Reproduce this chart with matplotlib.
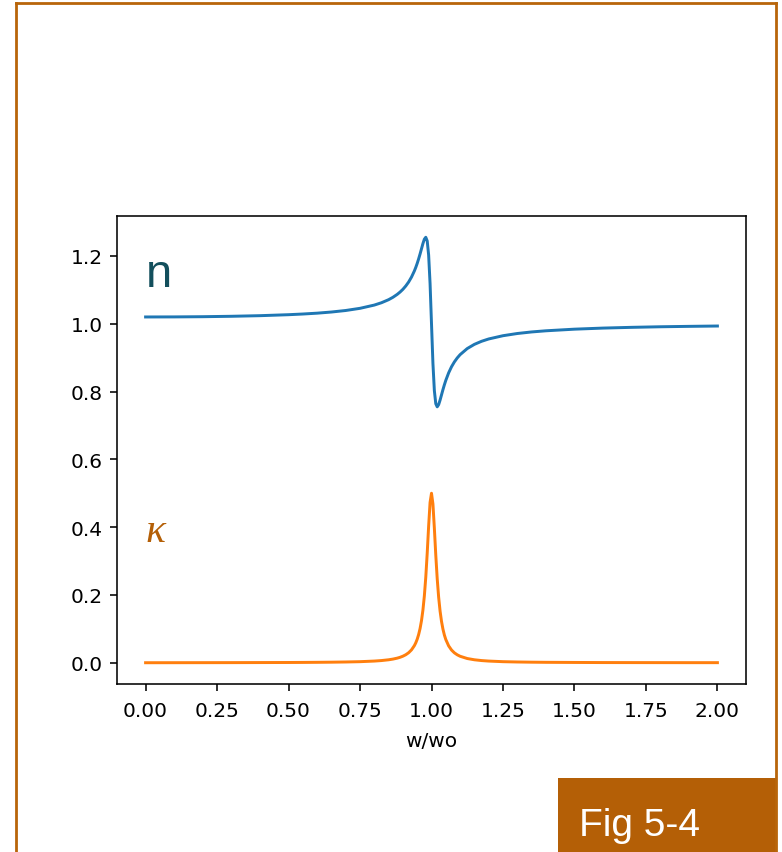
import numpy as np
import matplotlib
matplotlib.use("Agg")
import matplotlib.pyplot as plt
from matplotlib.patches import Rectangle
from matplotlib.lines import Line2D

# -------------------------------
# Values (w/wo, n, kappa)
# -------------------------------
w_ratio = [0.0, 0.1, 0.2, 0.3, 0.4, 0.5, 0.55, 0.6, 0.65, 0.7, 0.75, 0.8,
           0.825, 0.85, 0.865, 0.88, 0.89, 0.9, 0.91, 0.92, 0.93, 0.94,
           0.945, 0.95, 0.955, 0.96, 0.965, 0.97, 0.975, 0.98, 0.985,
           0.99, 0.995, 1.0, 1.005, 1.01, 1.015, 1.02, 1.025, 1.03, 1.035,
           1.04, 1.045, 1.05, 1.06, 1.07, 1.08, 1.09, 1.1, 1.125, 1.15,
           1.175, 1.2, 1.25, 1.3, 1.35, 1.4, 1.5, 1.6, 1.7, 1.8, 1.9, 2.0]
n_vals = [1.0200, 1.0202, 1.0208, 1.0220, 1.0238, 1.0267, 1.0287, 1.0312,
          1.0346, 1.0391, 1.0455, 1.0551, 1.0620, 1.0710, 1.0780, 1.0866,
          1.0935, 1.1016, 1.1114, 1.1231, 1.1376, 1.1556, 1.1662, 1.1781,
          1.1913, 1.2057, 1.2211, 1.2365, 1.2494, 1.2551, 1.2442, 1.2026,
          1.1185, 1.0000, 0.8832, 0.8026, 0.7640, 0.7549, 0.7614, 0.7747,
          0.7901, 0.8055, 0.8198, 0.8329, 0.8552, 0.8731, 0.8874, 0.8991,
          0.9088, 0.9268, 0.9392, 0.9482, 0.9551, 0.9647, 0.9712, 0.9758,
          0.9792, 0.9840, 0.9872, 0.9894, 0.9911, 0.9923, 0.9933]
kappa_vals = [0.0, 0.0001, 0.0002, 0.0003, 0.0005, 0.0007, 0.0009, 0.0012,
              0.0016, 0.0022, 0.0031, 0.0049, 0.0064, 0.0087, 0.0107, 0.0135,
              0.0160, 0.0193, 0.0236, 0.0295, 0.0379, 0.0503, 0.0587, 0.0694,
              0.0831, 0.1008, 0.1241, 0.1553, 0.1970, 0.2525, 0.3231, 0.4032,
              0.4728, 0.5000, 0.4684, 0.3968, 0.3169, 0.2475, 0.1932, 0.1524,
              0.1220, 0.0992, 0.0818, 0.0685, 0.0497, 0.0375, 0.0292, 0.0234,
              0.0191, 0.0124, 0.0087, 0.0064, 0.0049, 0.0031, 0.0022, 0.0016,
              0.0012, 0.0008, 0.0005, 0.0004, 0.0003, 0.0002, 0.0002]

# default matplotlib look, scaled up like the reference
s = 1.42
plt.rcParams.update({
    "font.size": 14.5,
    "lines.linewidth": 1.5 * s,
    "axes.linewidth": 0.8 * s,
    "xtick.major.size": 3.5 * s,
    "ytick.major.size": 3.5 * s,
    "xtick.major.width": 0.8 * s,
    "ytick.major.width": 0.8 * s,
    "xtick.major.pad": 7.5,
    "ytick.major.pad": 5.5,
    "axes.labelpad": 7.5,
})

W, H = 782, 853
fig = plt.figure(figsize=(W / 100, H / 100), dpi=100)
ax = fig.add_axes([117 / W, (H - 685) / H, 629 / W, 468 / H])

ax.plot(w_ratio, n_vals, color="#1f77b4")
ax.plot(w_ratio, kappa_vals, color="#ff7f0e")
ax.set_xticks(np.arange(0, 2.01, 0.25))
ax.set_xlabel("w/wo")

# curve labels
ax.text(0.0, 1.11, "n", fontsize=34, color="#134f5c",
        family="Liberation Sans", ha="left", va="baseline")
ax.text(0.0, 0.36, "κ", fontsize=30, color="#b45f06",
        family="Liberation Serif", style="italic", ha="left", va="baseline")

# slide frame and caption box
frame = "#b8650a"
fig.add_artist(Line2D([15.5 / W, 776 / W], [1 - 4 / H, 1 - 4 / H],
                      color=frame, lw=2, transform=fig.transFigure))
fig.add_artist(Line2D([15.5 / W, 15.5 / W], [0, 1 - 4 / H],
                      color=frame, lw=2, transform=fig.transFigure))
fig.add_artist(Line2D([776 / W, 776 / W], [0, 1 - 4 / H],
                      color=frame, lw=2, transform=fig.transFigure))
fig.add_artist(Rectangle((558 / W, 0), (777 - 558) / W, (H - 779) / H,
                         facecolor="#b45f06", edgecolor="none",
                         transform=fig.transFigure))
fig.text(579 / W, (H - 836) / H, "Fig 5-4", fontsize=28, color="white",
         family="Liberation Sans", ha="left", va="baseline")

fig.savefig("out.png", dpi=100)
